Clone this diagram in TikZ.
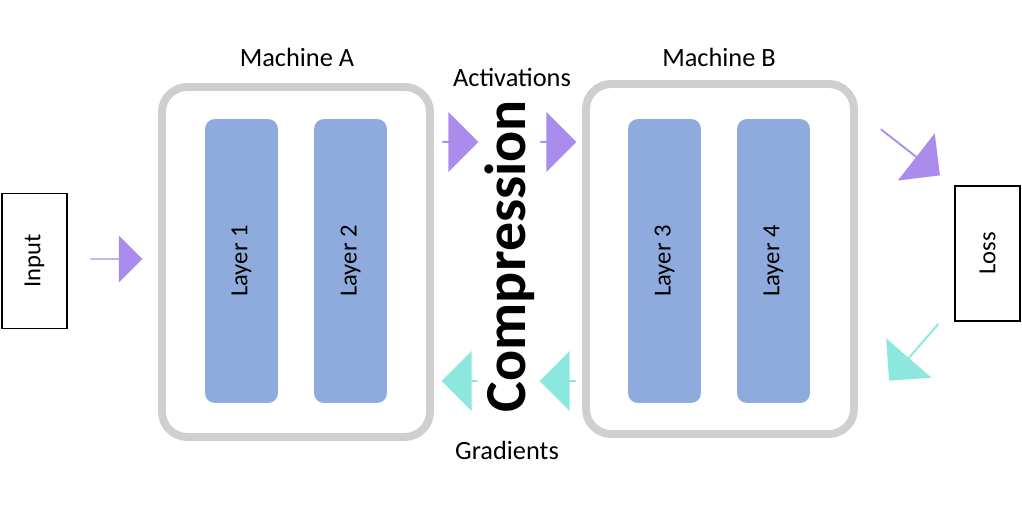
\documentclass[tikz,border=0pt]{standalone}
\usepackage{fontspec}
\setmainfont{Carlito}
\usetikzlibrary{shapes.arrows}
\definecolor{fwd}{RGB}{170,140,236}
\definecolor{bwd}{RGB}{140,232,222}
\definecolor{layerblue}{RGB}{143,170,220}
\definecolor{frame}{RGB}{208,206,206}
\tikzset{
  machine/.style={draw=frame, line width=4.5pt, rounded corners=0.5cm, minimum width=5.36cm, minimum height=7cm},
  layer/.style={fill=layerblue, rounded corners=0.2cm, minimum width=5.68cm, minimum height=1.46cm, rotate=90, font=\fontsize{14}{16}\selectfont},
  endbox/.style={draw, thick, minimum width=2.7cm, minimum height=1.3cm, rotate=90, font=\fontsize{14}{16}\selectfont},
  blockarrow/.style={single arrow, draw=none, minimum height=#1, minimum width=1.2cm, single arrow head extend=0.22cm, inner sep=0pt},
  label/.style={font=\fontsize{15}{17}\selectfont}
}
\begin{document}
\begin{tikzpicture}[x=0.02cm, y=-0.02cm]
    \useasboundingbox (0,0) rectangle (1022,518);

    \node (input) at (34.5,261) [endbox] {Input};
    \node (loss) at (987.5,253.5) [endbox] {Loss};

    \node (machA) at (296,262) [machine] {};
    \node (machB) at (720,259) [machine] {};
    \node (layer1) at (241.5,261) [layer] {Layer 1};
    \node (layer2) at (350.5,261) [layer] {Layer 2};
    \node (layer3) at (664.5,261) [layer] {Layer 3};
    \node (layer4) at (773.5,261) [layer] {Layer 4};

    \node (labA) at (297,57) [label] {Machine A};
    \node (labB) at (719,57) [label] {Machine B};
    \node (act) at (512,77) [label] {Activations};
    \node (grad) at (507,450) [label] {Gradients};
    \node (comp) at (510,256) [rotate=90, font=\bfseries\fontsize{33}{38}\selectfont] {Compression};

    \node (in2a) at (116,259) [blockarrow=1.04cm, fill=fwd, minimum width=0.94cm] {};
    \node (a2c) at (460,142) [blockarrow=0.72cm, fill=fwd] {};
    \node (c2b) at (558,142) [blockarrow=0.72cm, fill=fwd] {};
    \node (b2l) at (910,152) [blockarrow=1.5cm, fill=fwd, rotate=-38] {};
    \node (l2b) at (914,352) [blockarrow=1.5cm, fill=bwd, rotate=229] {};
    \node (c2a) at (460,381) [blockarrow=0.72cm, fill=bwd, rotate=180] {};
    \node (b2c) at (558,381) [blockarrow=0.72cm, fill=bwd, rotate=180] {};
\end{tikzpicture}
\end{document}
